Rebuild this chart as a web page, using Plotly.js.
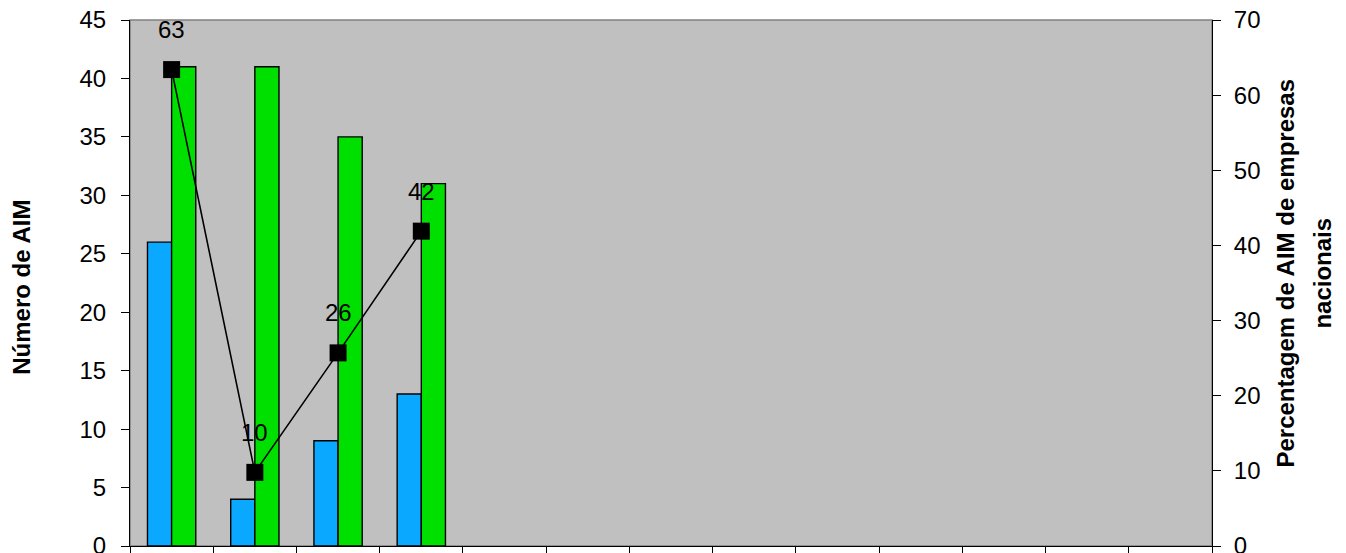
<!DOCTYPE html>
<html>
<head>
<meta charset="utf-8">
<script src="https://cdn.plot.ly/plotly-3.0.1.min.js"></script>
<style>
  html, body { margin: 0; padding: 0; background: #ffffff; }
  #chart { width: 1346px; height: 553px; }
</style>
</head>
<body>
<div id="chart"></div>
<script>
// ---- data ----
const categories = ['c1', 'c2', 'c3', 'c4', 'c5', 'c6', 'c7', 'c8', 'c9', 'c10', 'c11', 'c12', 'c13'];
const aimNacionais = [26, 4, 9, 13, null, null, null, null, null, null, null, null, null];
const aimTotal = [41, 41, 35, 31, null, null, null, null, null, null, null, null, null];
const pctNacionais = [63.4, 9.8, 25.7, 41.9, null, null, null, null, null, null, null, null, null];
const pctLabels = ['63', '10', '26', '42'];
const leftTitle = 'Número de AIM';
const rightTitleLines = ['Percentagem de AIM de empresas', 'nacionais'];

const FONT = '"Liberation Sans", Arial, sans-serif';

const traces = [
  {
    type: 'bar', name: 'AIM de empresas nacionais', x: categories, y: aimNacionais,
    marker: { color: '#0AA8FF', line: { color: '#000000', width: 1.4 } },
    yaxis: 'y', hoverinfo: 'skip'
  },
  {
    type: 'bar', name: 'Total de AIM', x: categories, y: aimTotal,
    marker: { color: '#00E000', line: { color: '#000000', width: 1.4 } },
    yaxis: 'y', hoverinfo: 'skip'
  },
  {
    type: 'scatter', mode: 'lines+markers', name: '% AIM de empresas nacionais',
    x: categories, y: pctNacionais, yaxis: 'y2',
    line: { color: '#000000', width: 1.6 },
    marker: { symbol: 'square', size: 17, color: '#000000' },
    hoverinfo: 'skip', connectgaps: false
  }
];

const annotations = [];
pctLabels.forEach((t, i) => {
  annotations.push({
    x: categories[i], y: pctNacionais[i], xref: 'x', yref: 'y2',
    text: t, showarrow: false, xanchor: 'center', yanchor: 'middle', yshift: 40,
    font: { family: FONT, size: 24, color: '#000000' }
  });
});
annotations.push({
  x: -0.0998, y: 0.491, xref: 'paper', yref: 'paper', text: '<b>' + leftTitle + '</b>',
  textangle: -90, showarrow: false, xanchor: 'center', yanchor: 'middle',
  font: { family: FONT, size: 24, color: '#000000' }
});
annotations.push({
  x: 1.0675, y: 0.518, xref: 'paper', yref: 'paper', text: '<b>' + rightTitleLines[0] + '</b>',
  textangle: -90, showarrow: false, xanchor: 'center', yanchor: 'middle',
  font: { family: FONT, size: 24, color: '#000000' }
});
annotations.push({
  x: 1.1017, y: 0.518, xref: 'paper', yref: 'paper', text: '<b>' + rightTitleLines[1] + '</b>',
  textangle: -90, showarrow: false, xanchor: 'center', yanchor: 'middle',
  font: { family: FONT, size: 24, color: '#000000' }
});

const tickFont = { family: FONT, size: 24, color: '#000000' };

const layout = {
  width: 1346, height: 553,
  margin: { l: 130, r: 134, t: 20, b: 7, pad: 0 },
  paper_bgcolor: '#ffffff',
  plot_bgcolor: '#C0C0C0',
  showlegend: false,
  barmode: 'group',
  bargap: 0.42,
  bargroupgap: 0,
  font: { family: FONT, size: 24, color: '#000000' },
  xaxis: {
    type: 'category', tickson: 'boundaries', ticks: 'outside', ticklen: 8,
    tickcolor: '#000000', showticklabels: false, showline: true, linecolor: '#000000',
    linewidth: 1, showgrid: false, zeroline: false, fixedrange: true,
    range: [-0.5, 12.5]
  },
  yaxis: {
    range: [0, 45], dtick: 5, tick0: 0, ticks: 'outside', ticklen: 8, tickcolor: '#000000',
    showline: true, linecolor: '#000000', linewidth: 1, showgrid: false, zeroline: false,
    tickfont: tickFont, ticklabelstandoff: 10, ticklabeloverflow: 'allow', fixedrange: true
  },
  yaxis2: {
    overlaying: 'y', side: 'right', anchor: 'x',
    range: [0, 70], dtick: 10, tick0: 0, ticks: 'outside', ticklen: 8, tickcolor: '#000000',
    showline: true, linecolor: '#000000', linewidth: 1, showgrid: false, zeroline: false,
    tickfont: tickFont, ticklabelstandoff: 8, ticklabeloverflow: 'allow', fixedrange: true
  },
  yaxis3: {
    overlaying: 'y', side: 'left', anchor: 'x',
    range: [0, 45], dtick: 5, tick0: 0, ticks: 'inside', ticklen: 8, tickcolor: '#000000',
    showticklabels: false, showline: false, showgrid: false, zeroline: false, fixedrange: true
  },
  yaxis4: {
    overlaying: 'y', side: 'right', anchor: 'x',
    range: [0, 70], dtick: 10, tick0: 0, ticks: 'inside', ticklen: 8, tickcolor: '#000000',
    showticklabels: false, showline: false, showgrid: false, zeroline: false, fixedrange: true
  },
  shapes: [{
    type: 'rect', xref: 'paper', yref: 'paper', x0: 0, x1: 1, y0: 0, y1: 1,
    line: { color: '#808080', width: 1.5 }, fillcolor: 'rgba(0,0,0,0)', layer: 'below'
  }],
  annotations: annotations
};

Plotly.newPlot('chart', traces, layout, { displayModeBar: false, staticPlot: true });
</script>
</body>
</html>
